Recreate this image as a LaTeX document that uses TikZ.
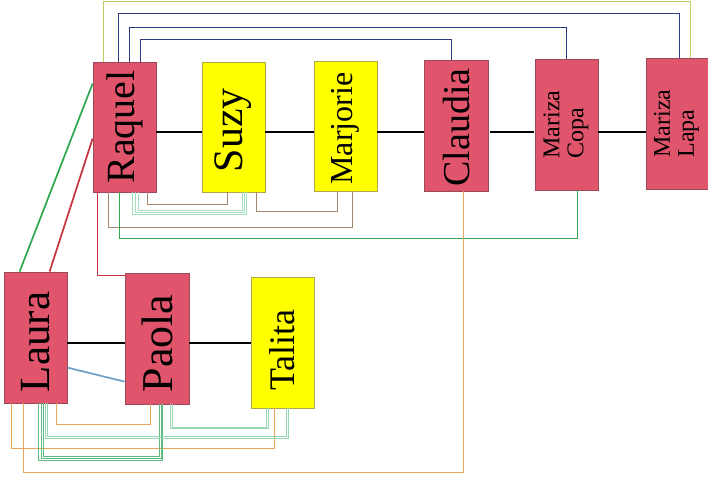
\documentclass[tikz,border=0pt]{standalone}
\usepackage{fontspec}
\setmainfont{Liberation Serif}
\usepackage{graphicx}
\definecolor{pinkfill}{HTML}{E0546C}
\definecolor{pinkedge}{HTML}{9C4A58}
\definecolor{yelfill}{HTML}{FFFF00}
\definecolor{yeledge}{HTML}{B0A848}
\definecolor{navy}{HTML}{2E3A86}
\definecolor{ltgreen}{HTML}{B8D25E}
\definecolor{dgreen}{HTML}{2DA84E}
\definecolor{dred}{HTML}{C8323E}
\definecolor{brn}{HTML}{A5876C}
\definecolor{orng}{HTML}{E8A55A}
\definecolor{mgreen}{HTML}{5DBB80}
\definecolor{pgreen}{HTML}{A6DDBE}
\definecolor{sblue}{HTML}{6E9FC6}
\newcommand\vlab[3]{\rotatebox{90}{\fontsize{#1}{#1}\selectfont #3\hspace*{#2}}}
\begin{document}
\begin{tikzpicture}[x=1pt,y=-1pt,
  pinkbox/.style={draw=pinkedge,fill=pinkfill,line width=0.8pt,inner sep=0pt,minimum width=63pt,minimum height=131pt},
  yelbox/.style={draw=yeledge,fill=yelfill,line width=0.8pt,inner sep=0pt,minimum width=63pt,minimum height=130pt},
  link/.style={line width=1.7pt},
  thin link/.style={line width=1pt},
  blk/.style={line width=1.6pt,black}]
\useasboundingbox (0,0) rectangle (708,477);
% nodes
\node[pinkbox,minimum height=130pt] (raquel) at (124.5,127) {\vlab{40}{0pt}{Raquel}};
\node[yelbox] (suzy) at (233.5,127) {\vlab{42}{6pt}{Suzy}};
\node[yelbox] (marjorie) at (345.5,126) {\vlab{32}{5pt}{Marjorie}};
\node[pinkbox,minimum width=64pt] (claudia) at (456,125.5) {\vlab{38}{4pt}{Claudia}};
\node[pinkbox] (copa) at (566.5,124.5) {\rotatebox{90}{\fontsize{24}{24}\selectfont\begin{tabular}{@{}l@{}}Mariza\\Copa\end{tabular}}};
\node[pinkbox,minimum width=62pt] (lapa) at (677,123.5) {\rotatebox{90}{\fontsize{24}{24}\selectfont\begin{tabular}{@{}l@{}}Mariza\\Lapa\end{tabular}}};
\node[pinkbox] (laura) at (35.5,337.5) {\vlab{43}{9pt}{Laura}};
\node[pinkbox,minimum width=64pt] (paola) at (157,338.5) {\vlab{44}{10pt}{Paola}};
\node[yelbox,minimum height=131pt] (talita) at (282.5,342.5) {\vlab{36}{15pt}{Talita}};
% black chain
\draw[blk] (raquel.east |- 0,132) -- (suzy.west |- 0,132);
\draw[blk] (suzy.east |- 0,132) -- (marjorie.west |- 0,132);
\draw[blk] (marjorie.east |- 0,132) -- (claudia.west |- 0,132);
\draw[blk] ([xshift=2pt]claudia.east |- 0,132) -- ([xshift=-1pt]copa.west |- 0,132);
\draw[blk] (copa.east |- 0,132) -- (lapa.west |- 0,132);
\draw[blk] (laura.east |- 0,343) -- (paola.west |- 0,343);
\draw[blk] (paola.east |- 0,343) -- (talita.west |- 0,343);
% top links
\draw[link,ltgreen] ([xshift=11pt]raquel.north west) -- ++(0,-60) -| ([xshift=45pt]lapa.north west);
\draw[link,navy] ([xshift=26pt]raquel.north west) -- ++(0,-48) -| ([xshift=34pt]lapa.north west);
\draw[link,navy] ([xshift=37pt]raquel.north west) -- ++(0,-34) -| ([xshift=32pt]copa.north west);
\draw[link,navy] ([xshift=48pt]raquel.north west) -- ++(0,-22) -| ([xshift=28pt]claudia.north west);
% raquel bottom links
\draw[link,dred] ([xshift=5pt]raquel.south west) |- ([yshift=-3pt]paola.north west);
\draw[link,brn] ([xshift=16pt]raquel.south west) -- ++(0,35) -| ([xshift=39pt]marjorie.south west);
\draw[link,dgreen] ([xshift=27pt]raquel.south west) -- ++(0,46) -| ([xshift=43pt]copa.south west);
\draw[thin link,pgreen] ([xshift=46pt]raquel.south west) -- ++(0,18) -| ([xshift=41pt]suzy.south west);
\draw[thin link,pgreen] ([xshift=43pt]raquel.south west) -- ++(0,20) -| ([xshift=43pt]suzy.south west);
\draw[thin link,pgreen] ([xshift=40pt]raquel.south west) -- ++(0,22) -| ([xshift=45pt]suzy.south west);
\draw[link,brn] ([xshift=55pt]raquel.south west) -- ++(0,12) -| ([xshift=26pt]suzy.south west);
\draw[link,brn] ([xshift=55pt]suzy.south west) -- ++(0,19) -| ([xshift=24pt]marjorie.south west);
% claudia to laura
\draw[link,orng] ([xshift=40pt]claudia.south west) -- ++(0,281) -| ([xshift=20pt]laura.south west);
% laura bottom links
\draw[link,orng] ([xshift=8pt]laura.south west) -- ++(0,45) -| ([xshift=24pt]talita.south west);
\draw[link,orng] ([xshift=53pt]laura.south west) -- ++(0,21) -| ([xshift=26pt]paola.south west);
\draw[thin link,mgreen] ([xshift=35pt]laura.south west) -- ++(0,57) -| ([xshift=38pt]paola.south west);
\draw[thin link,mgreen] ([xshift=38pt]laura.south west) -- ++(0,55) -| ([xshift=37pt]paola.south west);
\draw[thin link,mgreen] ([xshift=40pt]laura.south west) -- ++(0,53) -| ([xshift=35pt]paola.south west);
\draw[thin link,pgreen!80!mgreen] ([xshift=42pt]laura.south west) -- ++(0,35) -| ([xshift=38pt]talita.south west);
\draw[thin link,pgreen!80!mgreen] ([xshift=44pt]laura.south west) -- ++(0,33) -| ([xshift=36pt]talita.south west);
\draw[thin link,pgreen!80!mgreen] ([xshift=46pt]paola.south west) -- ++(0,24) -| ([xshift=18pt]talita.south west);
\draw[thin link,pgreen!80!mgreen] ([xshift=48pt]paola.south west) -- ++(0,23) -| ([xshift=16pt]talita.south west);
% diagonals
\draw[link,dgreen] ([xshift=16pt]laura.north west) -- ([yshift=-22pt]raquel.north west);
\draw[link,dred] ([xshift=46pt]laura.north west) -- ([yshift=-77pt]raquel.north west);
\draw[link,sblue] ([yshift=-96pt]laura.north east) -- ([yshift=-109pt]paola.north west);
\end{tikzpicture}
\end{document}
